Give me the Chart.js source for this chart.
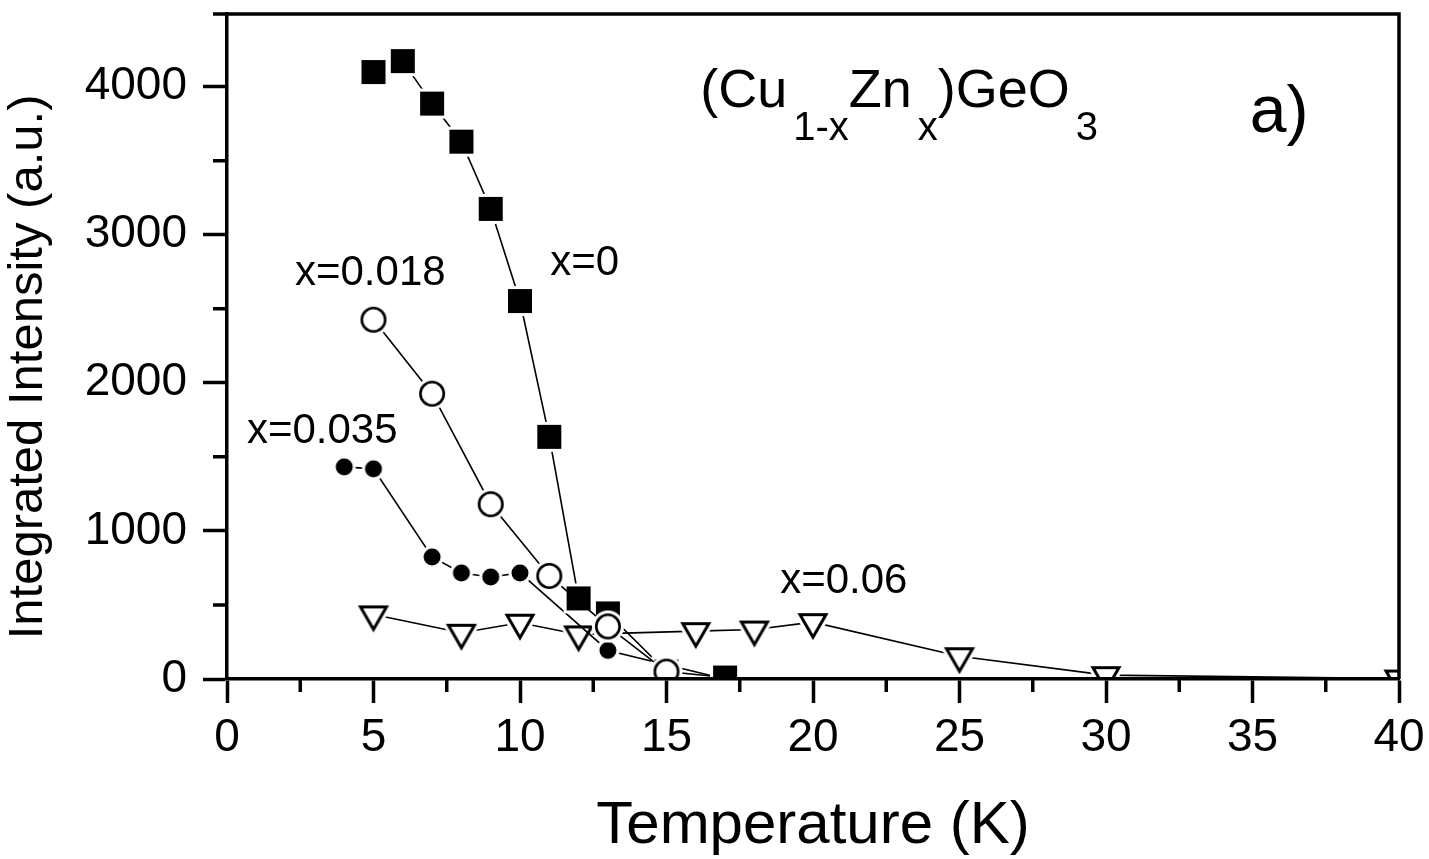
<!DOCTYPE html>
<html><head><meta charset="utf-8">
<script src="https://cdn.jsdelivr.net/npm/chart.js@4.4.1/dist/chart.umd.min.js"></script>
<style>html,body{margin:0;padding:0;background:#fff;} canvas{display:block;}</style>
</head><body>
<canvas id="c" width="1429" height="859"></canvas>
<script>
const FONT = "'Liberation Sans', Arial, Helvetica, sans-serif";

// ---- data (Temperature in K, Integrated Intensity in a.u.) ----
const tempX0   = [5, 6, 7, 8, 9, 10, 11, 12, 13, 15, 17];
const intX0    = [4098, 4172, 3885, 3628, 3174, 2552, 1635, 544, 443, 51, 10];
const tempX018 = [5, 7, 9, 11, 13, 15];
const intX018  = [2426, 1926, 1180, 696, 355, 50];
const tempX035 = [4, 5, 7, 8, 9, 10, 13, 17];
const intX035  = [1432, 1419, 824, 716, 689, 716, 193, 0];
const tempX06  = [5, 8, 10, 12, 16, 18, 20, 25, 30, 40];
const intX06   = [436, 312, 380, 301, 323, 334, 384, 154, 26, 3];

// ---- axes ----
const xMin = 0, xMax = 40;
const yMin = 0, yMax = 4490;
const xTickValues = [0, 5, 10, 15, 20, 25, 30, 35, 40];
const yTickValues = [0, 1000, 2000, 3000, 4000];
const xMinorTicks = [2.5, 7.5, 12.5, 17.5, 22.5, 27.5, 32.5, 37.5];
const yMinorTicks = [500, 1500, 2500, 3500];
const xTitle = 'Temperature (K)';
const yTitle = 'Integrated Intensity (a.u.)   ';

// ---- annotations (anchored in data coordinates) ----
const noteTexts = ['x=0', 'x=0.018', 'x=0.035', 'x=0.06'];
const noteT     = [11.03, 2.32, 0.68, 18.88];
const noteV     = [2726, 2659, 1591, 578];
const formulaParts = ['(Cu', '1-x', 'Zn', 'x', ')GeO', '3'];
const formulaSub   = [false, true, false, true, false, true];
const formulaT = 16.15, formulaV = 3861;
const panelText = 'a)';
const panelT = 34.91, panelV = 3693;

function mk(w, h, draw) {
  const c = document.createElement('canvas');
  c.width = w; c.height = h;
  const g = c.getContext('2d');
  g.translate(w / 2, h / 2);
  draw(g);
  return c;
}
const squareMarker = mk(34, 34, g => {
  g.fillStyle = '#fff'; g.fillRect(-15, -15, 30, 30);
  g.fillStyle = '#000'; g.fillRect(-12, -12, 24, 24);
});
const circleMarker = mk(36, 36, g => {
  g.fillStyle = '#fff'; g.beginPath(); g.arc(0, 0, 16, 0, 2 * Math.PI); g.fill();
  g.strokeStyle = '#000'; g.lineWidth = 2.6; g.beginPath(); g.arc(0, 0, 11.7, 0, 2 * Math.PI); g.stroke();
});
const dotMarker = mk(26, 26, g => {
  g.fillStyle = '#fff'; g.beginPath(); g.arc(0, 0, 11.5, 0, 2 * Math.PI); g.fill();
  g.fillStyle = '#000'; g.beginPath(); g.arc(0, 0, 8.5, 0, 2 * Math.PI); g.fill();
});
const triMarker = mk(50, 50, g => {
  const r = 15, s = Math.sin(Math.PI / 3) * r;
  const path = () => { g.beginPath(); g.moveTo(0, r); g.lineTo(-s, -r / 2); g.lineTo(s, -r / 2); g.closePath(); };
  path();
  g.lineJoin = 'round'; g.strokeStyle = '#fff'; g.lineWidth = 9; g.stroke();
  g.fillStyle = '#fff'; g.fill();
  path();
  g.lineJoin = 'miter'; g.strokeStyle = '#000'; g.lineWidth = 3; g.stroke();
});

function series(ts, vs, marker) {
  return {
    data: ts.map((t, i) => ({ x: t, y: vs[i] })),
    borderColor: '#000',
    borderWidth: 1.6,
    pointStyle: marker,
    pointRadius: 12,
    pointHoverRadius: 12,
    fill: false,
    tension: 0,
    clip: 0
  };
}

const decor = {
  id: 'decor',
  afterDraw(chart) {
    const { ctx, chartArea: a, scales: { x, y } } = chart;
    ctx.save();
    ctx.strokeStyle = '#000';
    ctx.lineWidth = 3.5;
    ctx.lineCap = 'butt';
    ctx.beginPath();
    ctx.moveTo(a.left - 14, a.top); ctx.lineTo(a.right + 1.75, a.top);
    ctx.moveTo(a.right, a.top); ctx.lineTo(a.right, a.bottom);
    ctx.stroke();
    ctx.beginPath();
    xMinorTicks.forEach(t => { const px = x.getPixelForValue(t); ctx.moveTo(px, a.bottom); ctx.lineTo(px, a.bottom + 13); });
    yMinorTicks.forEach(v => { const py = y.getPixelForValue(v); ctx.moveTo(a.left, py); ctx.lineTo(a.left - 14, py); });
    ctx.stroke();

    ctx.fillStyle = '#000';
    ctx.textAlign = 'left';
    ctx.textBaseline = 'alphabetic';
    ctx.font = '42px ' + FONT;
    noteTexts.forEach((t, i) => ctx.fillText(t, x.getPixelForValue(noteT[i]), y.getPixelForValue(noteV[i])));

    let px = x.getPixelForValue(formulaT);
    const base = y.getPixelForValue(formulaV);
    formulaParts.forEach((p, i) => {
      if (formulaSub[i]) {
        ctx.font = '40px ' + FONT;
        px += 6;
        ctx.fillText(p, px, base + 33);
      } else {
        ctx.font = '54px ' + FONT;
        ctx.fillText(p, px, base);
      }
      px += ctx.measureText(p).width;
    });

    ctx.font = '66px ' + FONT;
    ctx.fillText(panelText, x.getPixelForValue(panelT), y.getPixelForValue(panelV));
    ctx.restore();
  }
};

new Chart(document.getElementById('c'), {
  type: 'line',
  data: {
    datasets: [
      series(tempX018, intX018, circleMarker),
      series(tempX0, intX0, squareMarker),
      series(tempX035, intX035, dotMarker),
      series(tempX06, intX06, triMarker)
    ]
  },
  options: {
    responsive: false,
    devicePixelRatio: 1,
    animation: false,
    events: [],
    layout: { padding: { left: 0, top: 14, right: 30, bottom: 0 } },
    plugins: { legend: { display: false }, tooltip: { enabled: false } },
    scales: {
      x: {
        type: 'linear', position: 'bottom', min: xMin, max: xMax,
        afterBuildTicks(s) { s.ticks = xTickValues.map(v => ({ value: v })); },
        ticks: { color: '#000', padding: 8, maxRotation: 0, minRotation: 0, autoSkip: false,
                 font: { family: FONT, size: 46 }, callback: v => String(v) },
        grid: { drawOnChartArea: false, drawTicks: true, tickLength: 24, tickWidth: 3.5, tickColor: '#000' },
        border: { display: true, width: 3.5, color: '#000', z: 1 },
        title: { display: true, text: xTitle, color: '#000', font: { family: FONT, size: 60, lineHeight: 1 }, padding: { top: 0, bottom: 3 } },
        afterFit(s) { s.height = 180; s.paddingLeft = 0; s.paddingRight = 0; }
      },
      y: {
        type: 'linear', position: 'left', min: yMin, max: yMax,
        afterBuildTicks(s) { s.ticks = yTickValues.map(v => ({ value: v })); },
        ticks: { color: '#000', padding: 16, autoSkip: false,
                 font: { family: FONT, size: 46 }, callback: v => String(v) },
        grid: { drawOnChartArea: false, drawTicks: true, tickLength: 24, tickWidth: 3.5, tickColor: '#000' },
        border: { display: true, width: 3.5, color: '#000', z: 1 },
        title: { display: true, text: yTitle, color: '#000', font: { family: FONT, size: 49, lineHeight: 1 }, padding: { top: 4, bottom: 0 } },
        afterFit(s) { s.width = 227; s.paddingTop = 0; s.paddingBottom = 0; }
      }
    }
  },
  plugins: [decor]
});
</script>
</body></html>
